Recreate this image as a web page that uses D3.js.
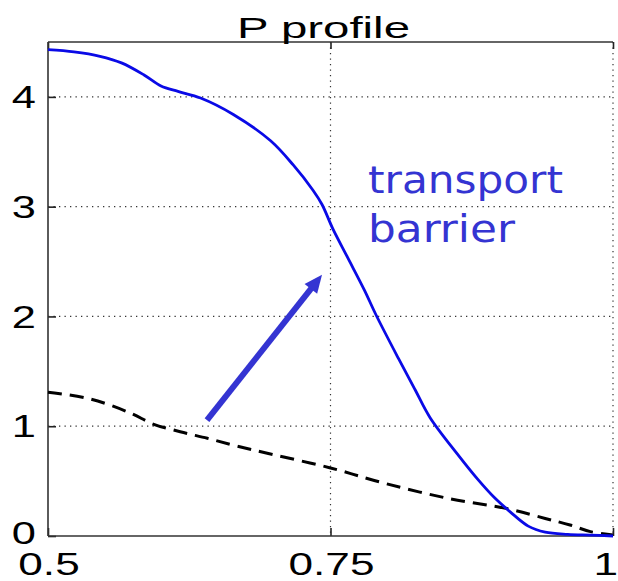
<!DOCTYPE html>
<html>
<head>
<meta charset="utf-8">
<script src="https://cdn.jsdelivr.net/npm/d3@7"></script>
<style>
  html, body { margin: 0; padding: 0; background: #fff; }
  svg { display: block; }
</style>
</head>
<body>
<svg id="chart" width="618" height="581"></svg>
<script>
// ---- data ----
const xTicks = [0.5, 0.75, 1];
const xTickLabels = ["0.5", "0.75", "1"];
const yTicks = [0, 1, 2, 3, 4];
const yTickLabels = ["0", "1", "2", "3", "4"];

const blueX = [0.5, 0.523, 0.546, 0.565, 0.585, 0.600, 0.615, 0.635, 0.664, 0.697, 0.717, 0.7345, 0.7425, 0.752, 0.765, 0.78, 0.79, 0.81, 0.825, 0.838, 0.862, 0.88, 0.895, 0.909, 0.925, 0.94, 0.96, 0.98, 1.0];
const blueY = [4.43, 4.41, 4.37, 4.31, 4.20, 4.10, 4.05, 3.99, 3.84, 3.60, 3.38, 3.15, 3.02, 2.80, 2.54, 2.24, 2.02, 1.62, 1.33, 1.08, 0.75, 0.52, 0.35, 0.22, 0.09, 0.035, 0.015, 0.008, 0.0];

const dashX = [0.5, 0.537, 0.573, 0.593, 0.617, 0.641, 0.667, 0.70, 0.75, 0.798, 0.853, 0.906, 0.94, 0.962, 0.98, 1.0];
const dashY = [1.31, 1.25, 1.12, 1.02, 0.95, 0.89, 0.82, 0.74, 0.62, 0.48, 0.345, 0.25, 0.16, 0.10, 0.04, 0.01];

const title = "P profile";
const noteLines = ["transport", "barrier"];

// ---- layout ----
const svg = d3.select("#chart");
const L = 48, R = 613, T = 42, B = 536;
const x = d3.scaleLinear().domain([0.5, 1]).range([L, R]);
const y = d3.scaleLinear().domain([0, 4.5]).range([B, T]);

svg.append("rect").attr("width", 618).attr("height", 581).attr("fill", "#fff");

// grid
const grid = svg.append("g").attr("stroke", "#333").attr("stroke-width", 1.2)
  .attr("stroke-dasharray", "1.3,4.2");
grid.selectAll("line.h").data(yTicks.filter(v => v > 0)).join("line")
  .attr("x1", L).attr("x2", R).attr("y1", d => y(d)).attr("y2", d => y(d));
grid.selectAll("line.v").data(xTicks.filter(v => v > 0.5)).join("line")
  .attr("y1", T).attr("y2", B).attr("x1", d => x(d)).attr("x2", d => x(d));

// axes with inward ticks
const axL = svg.append("g").attr("transform", `translate(${L},0)`)
  .call(d3.axisLeft(y).tickValues(yTicks).tickSize(-8).tickFormat(""));
const axB = svg.append("g").attr("transform", `translate(0,${B})`)
  .call(d3.axisBottom(x).tickValues(xTicks).tickSize(-8).tickFormat(""));
const axT = svg.append("g").attr("transform", `translate(0,${T})`)
  .call(d3.axisTop(x).tickValues(xTicks).tickSize(-7).tickFormat(""));
[axL, axB, axT].forEach(g => {
  g.select(".domain").remove();
  g.selectAll(".tick line").attr("stroke", "#222").attr("stroke-width", 1.6);
});
// box lines (left, bottom, top)
const box = svg.append("g").attr("stroke", "#333").attr("stroke-width", 1.6).attr("fill", "none");
box.append("line").attr("x1", L).attr("x2", L).attr("y1", T).attr("y2", B);
box.append("line").attr("x1", L).attr("x2", R).attr("y1", B).attr("y2", B);
box.append("line").attr("x1", L).attr("x2", R).attr("y1", T).attr("y2", T);

// tick labels
const tickFont = "'Liberation Sans', Arial, sans-serif";
svg.append("g").selectAll("text").data(yTicks).join("text")
  .attr("transform", d => `translate(36,${y(d) - (d === 0 ? 3 : 0)}) scale(1.4,1)`)
  .attr("dy", "0.36em")
  .attr("text-anchor", "end")
  .attr("font-family", tickFont).attr("font-size", 31).attr("fill", "#000")
  .text((d, i) => yTickLabels[i]);
svg.append("g").selectAll("text").data(xTicks).join("text")
  .attr("transform", (d, i) => i === xTicks.length - 1
      ? `translate(618,575) scale(1.38,1)`
      : `translate(${x(d) + 1},575) scale(1.38,1)`)
  .attr("text-anchor", (d, i) => i === xTicks.length - 1 ? "end" : "middle")
  .attr("font-family", tickFont).attr("font-size", 32).attr("fill", "#000")
  .text((d, i) => xTickLabels[i]);

// title
svg.append("text")
  .attr("x", 237).attr("y", 38)
  .attr("textLength", 173).attr("lengthAdjust", "spacingAndGlyphs")
  .attr("font-family", tickFont).attr("font-size", 30).attr("fill", "#000")
  .text(title);

// lines
const line = d3.line().x(d => x(d[0])).y(d => y(d[1])).curve(d3.curveCatmullRom.alpha(0.5));
svg.append("path")
  .datum(dashX.map((v, i) => [v, dashY[i]]))
  .attr("d", line).attr("fill", "none")
  .attr("stroke", "#000").attr("stroke-width", 3)
  .attr("stroke-dasharray", "14,8");
svg.append("path")
  .datum(blueX.map((v, i) => [v, blueY[i]]))
  .attr("d", line).attr("fill", "none")
  .attr("stroke", "#0a0ae6").attr("stroke-width", 2.8)
  .attr("stroke-linejoin", "round");

// annotation
const noteColor = "#3434d2";
const noteLens = [195, 147];
svg.append("g").selectAll("text").data(noteLines).join("text")
  .attr("x", 368).attr("y", (d, i) => 193 + i * 49)
  .attr("textLength", (d, i) => noteLens[i]).attr("lengthAdjust", "spacingAndGlyphs")
  .attr("font-family", "'DejaVu Sans', sans-serif").attr("font-size", 37)
  .attr("fill", noteColor)
  .text(d => d);

// arrow
const tail = [x(0.6407), y(1.055)];
const tip = [x(0.7425), y(2.38)];
const ang = Math.atan2(tip[1] - tail[1], tip[0] - tail[0]);
const headLen = 18, headW = 8;
const base = [tip[0] - headLen * Math.cos(ang), tip[1] - headLen * Math.sin(ang)];
svg.append("line")
  .attr("x1", tail[0]).attr("y1", tail[1]).attr("x2", base[0] + 2 * Math.cos(ang)).attr("y2", base[1] + 2 * Math.sin(ang))
  .attr("stroke", noteColor).attr("stroke-width", 6);
const px = -Math.sin(ang), py = Math.cos(ang);
svg.append("polygon")
  .attr("points", [
    tip,
    [base[0] + headW * px, base[1] + headW * py],
    [base[0] - headW * px, base[1] - headW * py]
  ].map(p => p.join(",")).join(" "))
  .attr("fill", noteColor);
</script>
</body>
</html>
